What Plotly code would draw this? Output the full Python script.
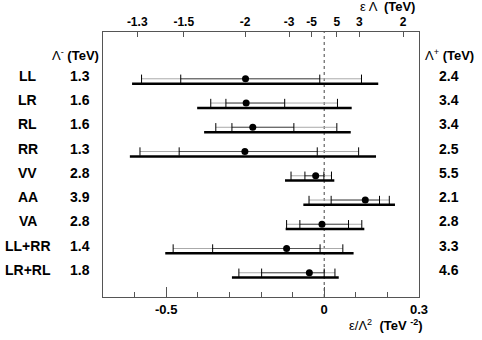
import plotly.graph_objects as go

# ---- data ----
models = ["LL", "LR", "RL", "RR", "VV", "AA", "VA", "LL+RR", "LR+RL"]
lam_minus = ["1.3", "1.6", "1.6", "1.3", "2.8", "3.9", "2.8", "1.4", "1.8"]
lam_plus = ["2.4", "3.4", "3.4", "2.5", "5.5", "2.1", "2.8", "3.3", "4.6"]
best_fit = [-0.249, -0.247, -0.226, -0.251, -0.027, 0.130, -0.007, -0.119, -0.047]
outer_lo = [-0.578, -0.359, -0.343, -0.583, -0.105, -0.048, -0.119, -0.478, -0.270]
inner_lo = [-0.454, -0.311, -0.292, -0.459, -0.061, 0.022, -0.077, -0.353, -0.198]
inner_hi = [-0.014, -0.125, -0.096, -0.022, -0.001, 0.175, 0.077, -0.013, 0.000]
outer_hi = [0.118, 0.042, 0.040, 0.109, 0.023, 0.206, 0.119, 0.059, 0.034]
limit_lo = [-0.608, -0.402, -0.380, -0.615, -0.124, -0.066, -0.122, -0.503, -0.292]
limit_hi = [0.171, 0.087, 0.084, 0.164, 0.032, 0.224, 0.127, 0.093, 0.046]

bottom_ticks = [-0.5, 0, 0.3]
top_tick_labels = ["-1.3", "-1.5", "-2", "-3", "-5", "5", "3", "2"]

FONT = "Liberation Sans"
rows = list(range(len(models)))
THICK_OFF = 0.2

def seg(lo, hi, off=0.0):
    xs, ys = [], []
    for i, (a, b) in enumerate(zip(lo, hi)):
        xs += [a, b, None]
        ys += [i + off, i + off, None]
    return xs, ys

fig = go.Figure()

# outer (light) error segments
xs, ys = seg(outer_lo, outer_hi)
fig.add_trace(go.Scatter(x=xs, y=ys, mode="lines", line=dict(color="#aaaaaa", width=1),
                         hoverinfo="skip", showlegend=False))
# inner (dark) error segments
xs, ys = seg(inner_lo, inner_hi)
fig.add_trace(go.Scatter(x=xs, y=ys, mode="lines", line=dict(color="#555555", width=1),
                         hoverinfo="skip", showlegend=False))
# tick marks on error bars
tx, ty = [], []
for i in rows:
    for v in (outer_lo[i], inner_lo[i], inner_hi[i], outer_hi[i]):
        tx.append(v)
        ty.append(i)
fig.add_trace(go.Scatter(x=tx, y=ty, mode="markers",
                         marker=dict(symbol="line-ns", size=6, line=dict(color="black", width=1)),
                         hoverinfo="skip", showlegend=False))
# thick limit lines
xs, ys = seg(limit_lo, limit_hi, THICK_OFF)
fig.add_trace(go.Scatter(x=xs, y=ys, mode="lines", line=dict(color="black", width=2.5),
                         hoverinfo="skip", showlegend=False))
# best fit dots
fig.add_trace(go.Scatter(x=best_fit, y=rows, mode="markers",
                         marker=dict(color="black", size=7), showlegend=False))
# dummy trace for top axis
fig.add_trace(go.Scatter(x=[0], y=[0], xaxis="x2", mode="markers",
                         marker=dict(opacity=0), hoverinfo="skip", showlegend=False))

# zero line
fig.add_shape(type="line", xref="x", yref="paper", x0=0, x1=0, y0=0, y1=1,
              line=dict(color="#444444", width=1, dash="3px,3px"), layer="below")

top_vals = []
for t in top_tick_labels:
    v = float(t)
    top_vals.append((1 if v > 0 else -1) / (v * v))

tickfont = dict(family=FONT, size=12, color="black", weight="bold")

fig.update_layout(
    width=482, height=340,
    margin=dict(l=103, r=63, t=32, b=43),
    paper_bgcolor="white", plot_bgcolor="white",
    font=dict(family=FONT, color="black"),
    xaxis=dict(range=[-0.7, 0.3], tickmode="array", tickvals=bottom_ticks,
               ticktext=["-0.5", "0", "0.3"], ticks="inside", ticklen=10, tickwidth=1,
               tickcolor="#555555", showline=True, linecolor="#555555", linewidth=1,
               showgrid=False, zeroline=False, tickfont=dict(family=FONT, size=13, color="black", weight="bold"),
               minor=dict(tickmode="linear", tick0=0, dtick=0.1, ticks="inside", ticklen=5,
                          tickcolor="#555555", showgrid=False)),
    xaxis2=dict(range=[-0.7, 0.3], overlaying="x", side="top", tickmode="array",
                tickvals=top_vals, ticktext=top_tick_labels, ticks="inside", ticklen=5,
                tickcolor="#555555", showline=True, linecolor="#555555", linewidth=1,
                showgrid=False, zeroline=False, tickfont=tickfont),
    yaxis=dict(range=[9.0, -1.93], showticklabels=False, ticks="", showgrid=False,
               zeroline=False, showline=True, mirror=True, linecolor="#555555", linewidth=1),
)

ann = []
for i in rows:
    ann.append(dict(x=-0.238, y=i - 0.12, xref="paper", yref="y", text=models[i],
                    showarrow=False, xanchor="center", yanchor="middle",
                    font=dict(family=FONT, size=14, color="black", weight="bold")))
    ann.append(dict(x=-0.074, y=i - 0.12, xref="paper", yref="y", text=lam_minus[i],
                    showarrow=False, xanchor="center", yanchor="middle",
                    font=dict(family=FONT, size=14, color="black", weight="bold")))
    ann.append(dict(x=1.094, y=i - 0.12, xref="paper", yref="y", text=lam_plus[i],
                    showarrow=False, xanchor="center", yanchor="middle",
                    font=dict(family=FONT, size=14, color="black", weight="bold")))

ann.append(dict(x=-0.086, y=0.914, xref="paper", yref="paper",
                text="Λ<sup>-</sup> <b>(TeV)</b>", showarrow=False,
                xanchor="center", yanchor="middle", font=dict(family=FONT, size=13, color="black")))
ann.append(dict(x=1.098, y=0.914, xref="paper", yref="paper",
                text="Λ<sup>+</sup> <b>(TeV)</b>", showarrow=False,
                xanchor="center", yanchor="middle", font=dict(family=FONT, size=13, color="black")))
ann.append(dict(x=0.994, y=1.095, xref="paper", yref="paper",
                text="ε Λ  <b>(TeV)</b>", showarrow=False,
                xanchor="right", yanchor="middle", font=dict(family=FONT, size=13, color="black")))
ann.append(dict(x=1.02, y=-0.105, xref="paper", yref="paper",
                text="ε/Λ<sup>2</sup>  <b>(TeV <sup>-2</sup>)</b>", showarrow=False,
                xanchor="right", yanchor="middle", font=dict(family=FONT, size=13, color="black")))
fig.update_layout(annotations=ann)

fig.write_html("out.html")
